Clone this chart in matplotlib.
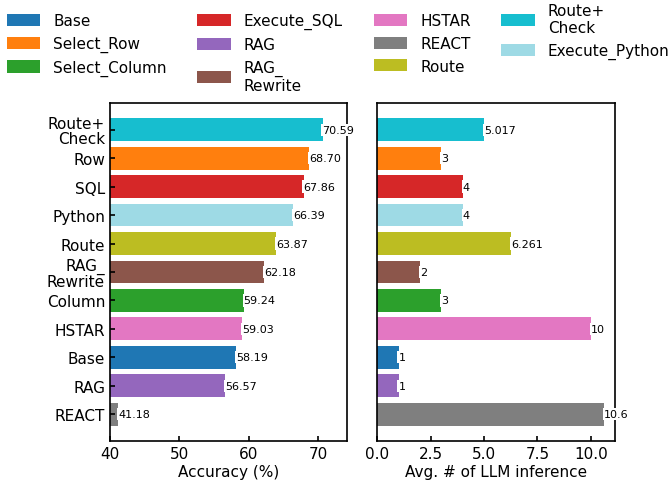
import matplotlib
matplotlib.use("Agg")
import matplotlib.pyplot as plt
from matplotlib.patches import Patch

# Data (top to bottom as shown)
labels = ["Route+\nCheck", "Row", "SQL", "Python", "Route", "RAG_\nRewrite",
          "Column", "HSTAR", "Base", "RAG", "REACT"]
accuracy = [70.59, 68.70, 67.86, 66.39, 63.87, 62.18, 59.24, 59.03, 58.19, 56.57, 41.18]
acc_text = ["70.59", "68.70", "67.86", "66.39", "63.87", "62.18", "59.24", "59.03", "58.19", "56.57", "41.18"]
inference = [5.017, 3, 4, 4, 6.261, 2, 3, 10, 1, 1, 10.6]
inf_text = ["5.017", "3", "4", "4", "6.261", "2", "3", "10", "1", "1", "10.6"]
colors = ["#17becf", "#ff7f0e", "#d62728", "#9edae5", "#bcbd22", "#8c564b",
          "#2ca02c", "#e377c2", "#1f77b4", "#9467bd", "#7f7f7f"]

legend_names = ["Base", "Select_Row", "Select_Column", "Execute_SQL", "RAG", "RAG_\nRewrite",
                "HSTAR", "REACT", "Route", "Route+\nCheck", "Execute_Python"]
legend_colors = ["#1f77b4", "#ff7f0e", "#2ca02c", "#d62728", "#9467bd", "#8c564b",
                 "#e377c2", "#7f7f7f", "#bcbd22", "#17becf", "#9edae5"]

fig = plt.figure(figsize=(6.7, 4.85), dpi=100)
ax1 = fig.add_axes([0.164, 0.0887, 0.354, 0.697])
ax2 = fig.add_axes([0.563, 0.0887, 0.355, 0.697])

y = list(range(len(labels)))

ax1.barh(y, accuracy, color=colors, height=0.8)
ax1.set_xlim(40, max(accuracy) * 1.05)
ax1.set_yticks(y)
ax1.set_yticklabels(labels, fontsize=11, linespacing=1.0)
ax1.invert_yaxis()
ax1.set_xlabel("Accuracy (%)", fontsize=11, labelpad=2)
ax1.set_xticks([40, 50, 60, 70])
for yi, v, t in zip(y, accuracy, acc_text):
    ax1.text(v, yi, t, va="center", ha="left", fontsize=8,
             bbox=dict(facecolor="white", edgecolor="none", boxstyle="square,pad=0.1"))

ax2.barh(y, inference, color=colors, height=0.8)
ax2.set_xlim(0, max(inference) * 1.05)
ax2.set_yticks([])
ax2.invert_yaxis()
ax2.set_xlabel("Avg. # of LLM inference", fontsize=11, labelpad=2)
ax2.set_xticks([0, 2.5, 5, 7.5, 10])
for yi, v, t in zip(y, inference, inf_text):
    ax2.text(v, yi, t, va="center", ha="left", fontsize=8,
             bbox=dict(facecolor="white", edgecolor="none", boxstyle="square,pad=0.1"))

for ax in (ax1, ax2):
    ax.tick_params(direction="in", labelsize=11, width=1.2)
    for s in ax.spines.values():
        s.set_linewidth(1.2)

handles = [Patch(facecolor=c, label=n) for n, c in zip(legend_names, legend_colors)]
fig.legend(handles=handles, ncol=4, loc="upper left", bbox_to_anchor=(-0.0105, 1.02),
           frameon=False, fontsize=11, handlelength=2.2, handleheight=0.85,
           columnspacing=2.0, handletextpad=0.85, labelspacing=0.5)

fig.savefig("out.png", dpi=100)
